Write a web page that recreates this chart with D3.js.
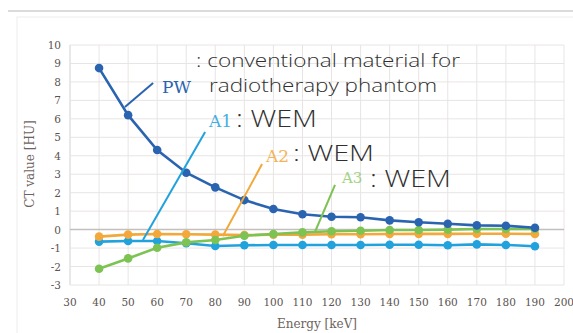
<!DOCTYPE html>
<html><head><meta charset="utf-8">
<script src="https://cdn.jsdelivr.net/npm/d3@7/dist/d3.min.js"></script>
<style>
html,body{margin:0;padding:0;background:#fff;}
svg{display:block;}
</style></head><body>
<svg id="c" width="573" height="333"></svg>
<script>
const energies = [40,50,60,70,80,90,100,110,120,130,140,150,160,170,180,190];
const pw = [8.75,6.2,4.31,3.08,2.29,1.6,1.12,0.83,0.7,0.67,0.5,0.4,0.32,0.23,0.21,0.1];
const a1 = [-0.65,-0.62,-0.62,-0.74,-0.89,-0.85,-0.83,-0.83,-0.83,-0.83,-0.82,-0.82,-0.85,-0.8,-0.83,-0.9];
const a2 = [-0.38,-0.27,-0.24,-0.25,-0.27,-0.3,-0.27,-0.27,-0.25,-0.25,-0.24,-0.23,-0.23,-0.22,-0.22,-0.24];
const a3 = [-2.12,-1.56,-0.98,-0.69,-0.56,-0.33,-0.24,-0.15,-0.09,-0.06,-0.02,-0.02,0,0.03,0.03,0.03];
const xTicks = [30,40,50,60,70,80,90,100,110,120,130,140,150,160,170,180,190,200];
const yTicks = [-3,-2,-1,0,1,2,3,4,5,6,7,8,9,10];
const seriesNames = ["A1","A2","A3","PW"];
const xTitle = "Energy [keV]";
const yTitle = "CT value [HU]";

const colors = {PW:"#2A64B0", A1:"#21A2DD", A2:"#F2A83A", A3:"#7DC354"};
const values = {PW:pw, A1:a1, A2:a2, A3:a3};

const svg = d3.select("#c");
const x = d3.scaleLinear().domain([30,200]).range([70,564]);
const y = d3.scaleLinear().domain([-3,10]).range([285,45]);

// frame
svg.append("line").attr("x1",8).attr("x2",573).attr("y1",11).attr("y2",11).attr("stroke","#cfcfcf").attr("stroke-width",1.5);
svg.append("rect").attr("x",17).attr("y",17).attr("width",570).attr("height",330).attr("fill","none").attr("stroke","#eeeeee");

// grid
const g = svg.append("g");
g.selectAll(".vg").data(xTicks).join("line")
  .attr("x1",d=>x(d)).attr("x2",d=>x(d)).attr("y1",y(10)).attr("y2",y(-3))
  .attr("stroke",d=>d===30?"#d4cfcf":"#e9e4e4").attr("stroke-width",1);
g.selectAll(".hg").data(yTicks).join("line")
  .attr("x1",x(30)).attr("x2",x(200)).attr("y1",d=>y(d)).attr("y2",d=>y(d))
  .attr("stroke",d=>d===0?"#c4bebe":"#e9e4e4").attr("stroke-width",d=>d===0?1.5:1);

// tick labels
const serif = "'DejaVu Serif', 'Liberation Serif', serif";
svg.selectAll(".xt").data(xTicks).join("text")
  .attr("x",d=>x(d)).attr("y",306).attr("text-anchor","middle")
  .attr("font-family",serif).attr("font-size",10.5).attr("fill","#5a5350").text(d=>d);
svg.selectAll(".yt").data(yTicks).join("text")
  .attr("x",61).attr("y",d=>y(d)+4).attr("text-anchor","end")
  .attr("font-family",serif).attr("font-size",10.5).attr("fill","#5a5350").text(d=>d);

svg.append("text").attr("x",317).attr("y",328).attr("text-anchor","middle")
  .attr("font-family",serif).attr("font-size",12).attr("fill","#6d6360").text(xTitle);
svg.append("text").attr("transform","translate(34,164) rotate(-90)").attr("text-anchor","middle")
  .attr("font-family",serif).attr("font-size",12).attr("fill","#6d6360").text(yTitle);

// series
const line = d3.line().x(d=>x(d[0])).y(d=>y(d[1]));
seriesNames.forEach(name=>{
  const pts = energies.map((e,i)=>[e, values[name][i]]);
  svg.append("path").attr("d",line(pts)).attr("fill","none").attr("stroke",colors[name]).attr("stroke-width",2.6);
  svg.selectAll(".p"+name).data(pts).join("circle")
    .attr("cx",d=>x(d[0])).attr("cy",d=>y(d[1])).attr("r",4.3).attr("fill",colors[name]);
});

// leader lines (in data units)
const leaders = [
  {n:"PW", p:[[48.9,6.64],[58.6,7.94]]},
  {n:"A1", p:[[55.1,-0.56],[76.5,5.29]]},
  {n:"A2", p:[[82.6,-0.35],[96.1,3.55]]},
  {n:"A3", p:[[114.3,-0.13],[121.2,2.42]]}
];
leaders.forEach(l=>{
  svg.append("line").attr("x1",x(l.p[0][0])).attr("y1",y(l.p[0][1]))
    .attr("x2",x(l.p[1][0])).attr("y2",y(l.p[1][1]))
    .attr("stroke",colors[l.n]).attr("stroke-width",2);
});

// annotation labels
const sans = "'Open Sans', sans-serif";
function lab(name, px, py, size, op){
  svg.append("text").attr("x",px).attr("y",py).attr("font-family",serif)
    .attr("font-size",size).attr("fill",colors[name]).attr("opacity",op).text(name);
}
function note(txt, px, py, size, len){
  svg.append("text").attr("x",px).attr("y",py).attr("font-family",sans).attr("font-weight",300)
    .attr("font-size",size).attr("fill","#2f2f2f")
    .attr("textLength",len).attr("lengthAdjust","spacingAndGlyphs").text(txt);
}
lab("PW", 162, 93, 17, 1);
note(": conventional material for", 196, 67, 18, 264);
note("radiotherapy phantom", 209, 92, 18, 228);
lab("A1", 209, 127, 17, 0.85);
note(": WEM", 236, 127, 23, 81);
lab("A2", 266, 162, 17, 0.85);
note(": WEM", 293, 161, 22, 81);
lab("A3", 342, 183, 15, 0.7);
note(": WEM", 370, 187, 23, 81);
</script>
</body></html>
